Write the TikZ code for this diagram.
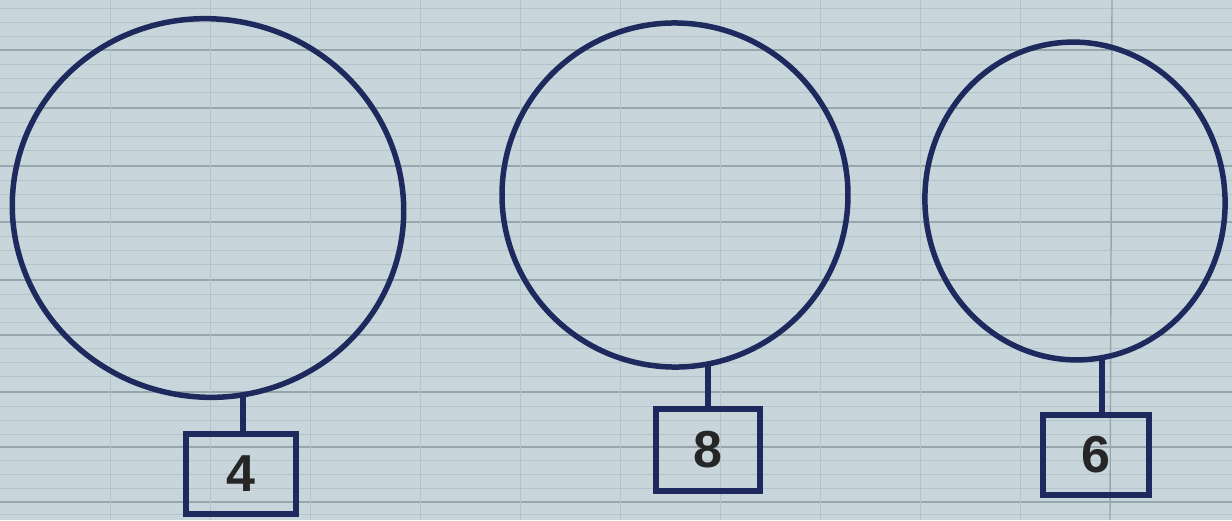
\documentclass[tikz,border=0pt]{standalone}
\usepackage{fontspec}
\setmainfont{Liberation Sans}
\definecolor{paper}{HTML}{C8D6DC}
\definecolor{rule}{HTML}{97A6AD}
\definecolor{fainterule}{HTML}{B4C3C9}
\definecolor{ink}{HTML}{1E2A5E}
\begin{document}
\begin{tikzpicture}[x=1pt,y=-1pt,
  balloon/.style={draw=ink,line width=5.5pt,line join=round},
  stem/.style={draw=ink,line width=5.5pt},
  tag/.style={draw=ink,line width=5.5pt,rectangle,inner sep=0pt,font=\fontsize{52}{52}\selectfont\bfseries,text=black!85}]
% paper
\fill[paper] (0,0) rectangle (1232,520);
\useasboundingbox (0,0) rectangle (1232,520);
\foreach \y in {8,22,36,64,78,92,122,136,150,180,194,208,236,250,264,294,308,322,348,362,376,406,420,434,460,474,488,514}
  \draw[fainterule,line width=0.8pt] (0,\y) -- (1232,\y);
\foreach \y in {50,108,166,222,280,335,392,447,502}
  \draw[rule,line width=1.8pt] (0,\y) -- (1232,\y);
\foreach \x in {110,210,310,420,520,620,720,820,920,1020}
  \draw[fainterule,line width=0.6pt] (\x,0) -- (\x,520);
\draw[rule,line width=1.4pt] (1112,0) -- (1110,520);
% balloons
\draw[balloon,rotate around={-12:(208,208)}] (208,208) ellipse [x radius=196pt, y radius=189pt];
\draw[balloon,rotate around={-8:(675,195)}] (675,195) ellipse [x radius=173pt, y radius=172pt];
\draw[balloon,rotate around={6:(1075,201)}] (1075,201) ellipse [x radius=150pt, y radius=159pt];
\coordinate (b1) at (243,396);
\coordinate (b2) at (708,366);
\coordinate (b3) at (1102,359);
% tags
\node[tag,minimum width=110pt,minimum height=80pt] (t1) at (241,474) {4};
\node[tag,minimum width=104pt,minimum height=82pt] (t2) at (708,450) {8};
\node[tag,minimum width=106pt,minimum height=80pt] (t3) at (1096,455) {6};
\draw[stem] (b1) -- (t1.north -| b1);
\draw[stem] (b2) -- (t2.north -| b2);
\draw[stem] (b3) -- (t3.north -| b3);
\end{tikzpicture}
\end{document}
